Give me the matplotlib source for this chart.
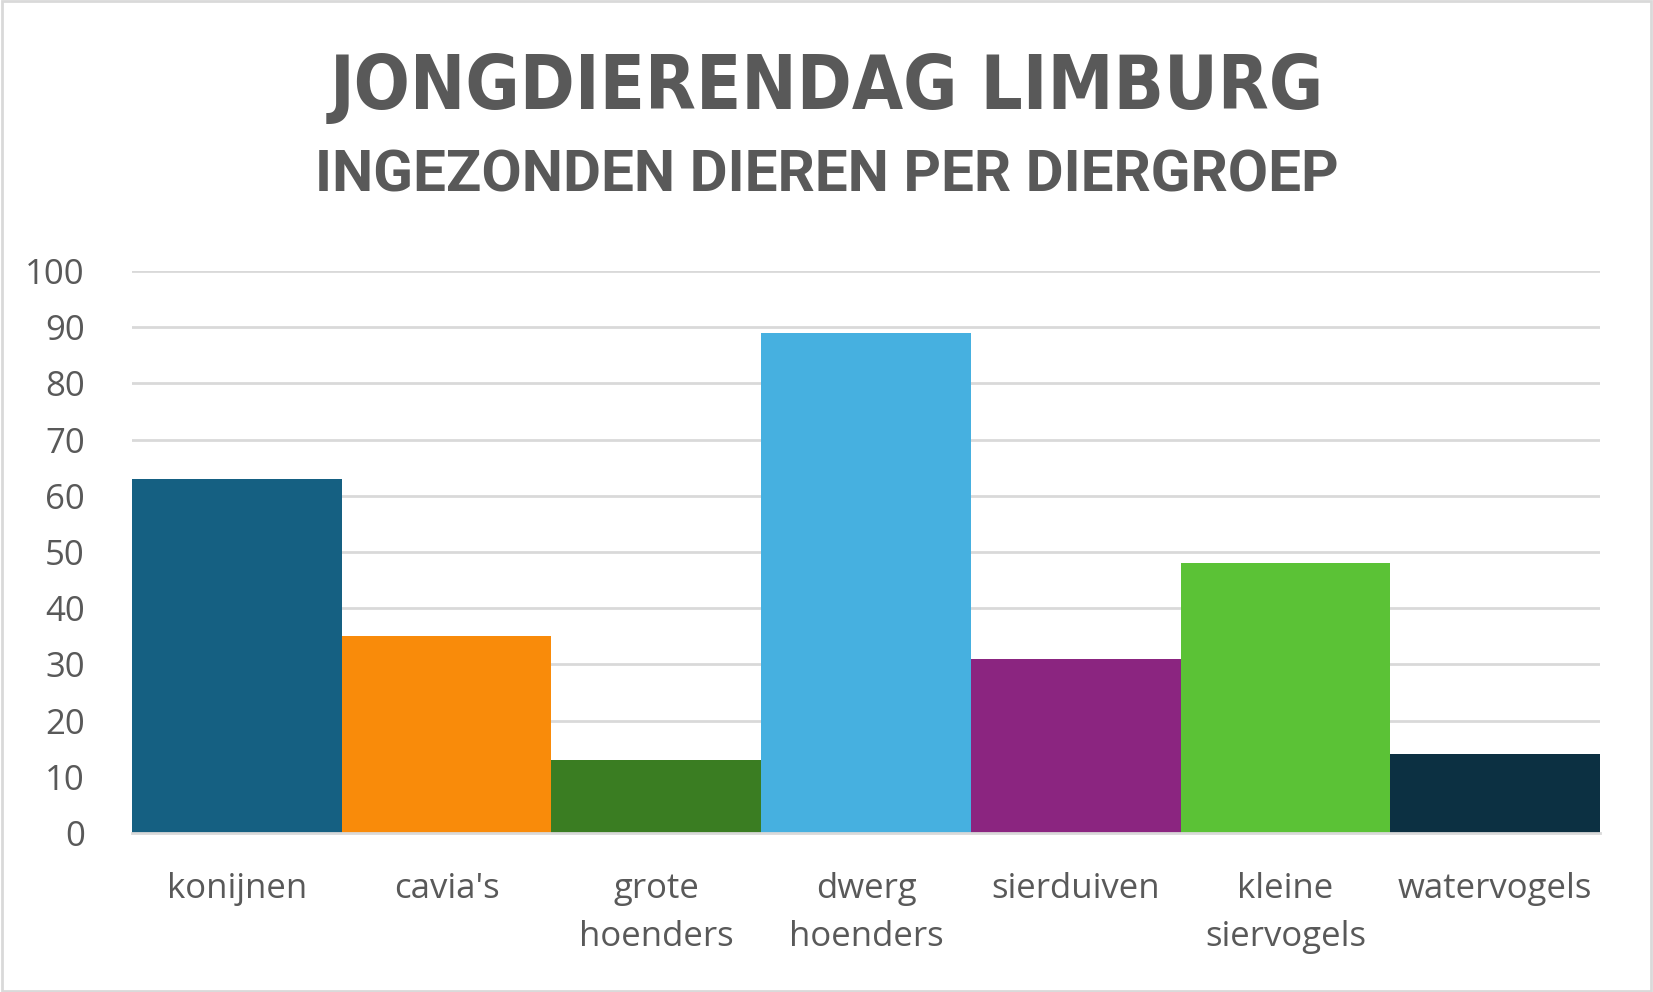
import matplotlib
matplotlib.use("Agg")
import matplotlib.pyplot as plt
from matplotlib.patches import Rectangle

categories = ["konijnen", "cavia's", "grote\nhoenders", "dwerg\nhoenders",
              "sierduiven", "kleine\nsiervogels", "watervogels"]
counts = [63, 35, 13, 89, 31, 48, 14]
colors = ["#156082", "#F98B0A", "#3A7D22", "#46B0E0", "#8B2580", "#5BC236", "#0C3042"]
yticks = list(range(0, 101, 10))

TEXT = "#595959"
W, H = 1653, 992

fig = plt.figure(figsize=(W / 100, H / 100), dpi=100)
fig.patch.set_facecolor("white")
fig.add_artist(Rectangle((0.001, 0.001), 0.998, 0.998, transform=fig.transFigure,
                         fill=False, edgecolor="#D9D9D9", linewidth=2))

ax = fig.add_axes([132 / W, 1 - 833 / H, (1600 - 132) / W, (833 - 271) / H])
x = range(len(categories))
ax.bar(x, counts, width=1.0, color=colors, zorder=3)
ax.set_xlim(-0.5, len(categories) - 0.5)
ax.set_ylim(0, 100)
ax.set_yticks(yticks)
ax.set_xticks(list(x))
ax.set_xticklabels(categories, fontsize=25, color=TEXT, family=["Open Sans", "DejaVu Sans"],
                   linespacing=1.55, va="top")
ax.tick_params(axis="y", labelsize=25, labelcolor=TEXT, length=0, pad=34)
ax.tick_params(axis="x", length=0, pad=28)
for lbl in ax.get_yticklabels():
    lbl.set_family(["Open Sans", "DejaVu Sans"])
ax.grid(axis="y", color="#D9D9D9", linewidth=2, zorder=0)
for s in ["top", "right", "left"]:
    ax.spines[s].set_visible(False)
ax.spines["bottom"].set_color("#D9D9D9")
ax.spines["bottom"].set_linewidth(2)
ax.spines["bottom"].set_zorder(4)

fig.text(0.5, 1 - 88 / H, "JONGDIERENDAG LIMBURG", ha="center", va="center",
         fontsize=53, fontweight="bold", fontstretch="condensed", color=TEXT,
         family=["DejaVu Sans"])
fig.text(0.5, 1 - 176 / H, "INGEZONDEN DIEREN PER DIERGROEP", ha="center", va="center",
         fontsize=42, fontweight="bold", color=TEXT, family=["Roboto", "DejaVu Sans"])

fig.savefig("out.png", dpi=100)
